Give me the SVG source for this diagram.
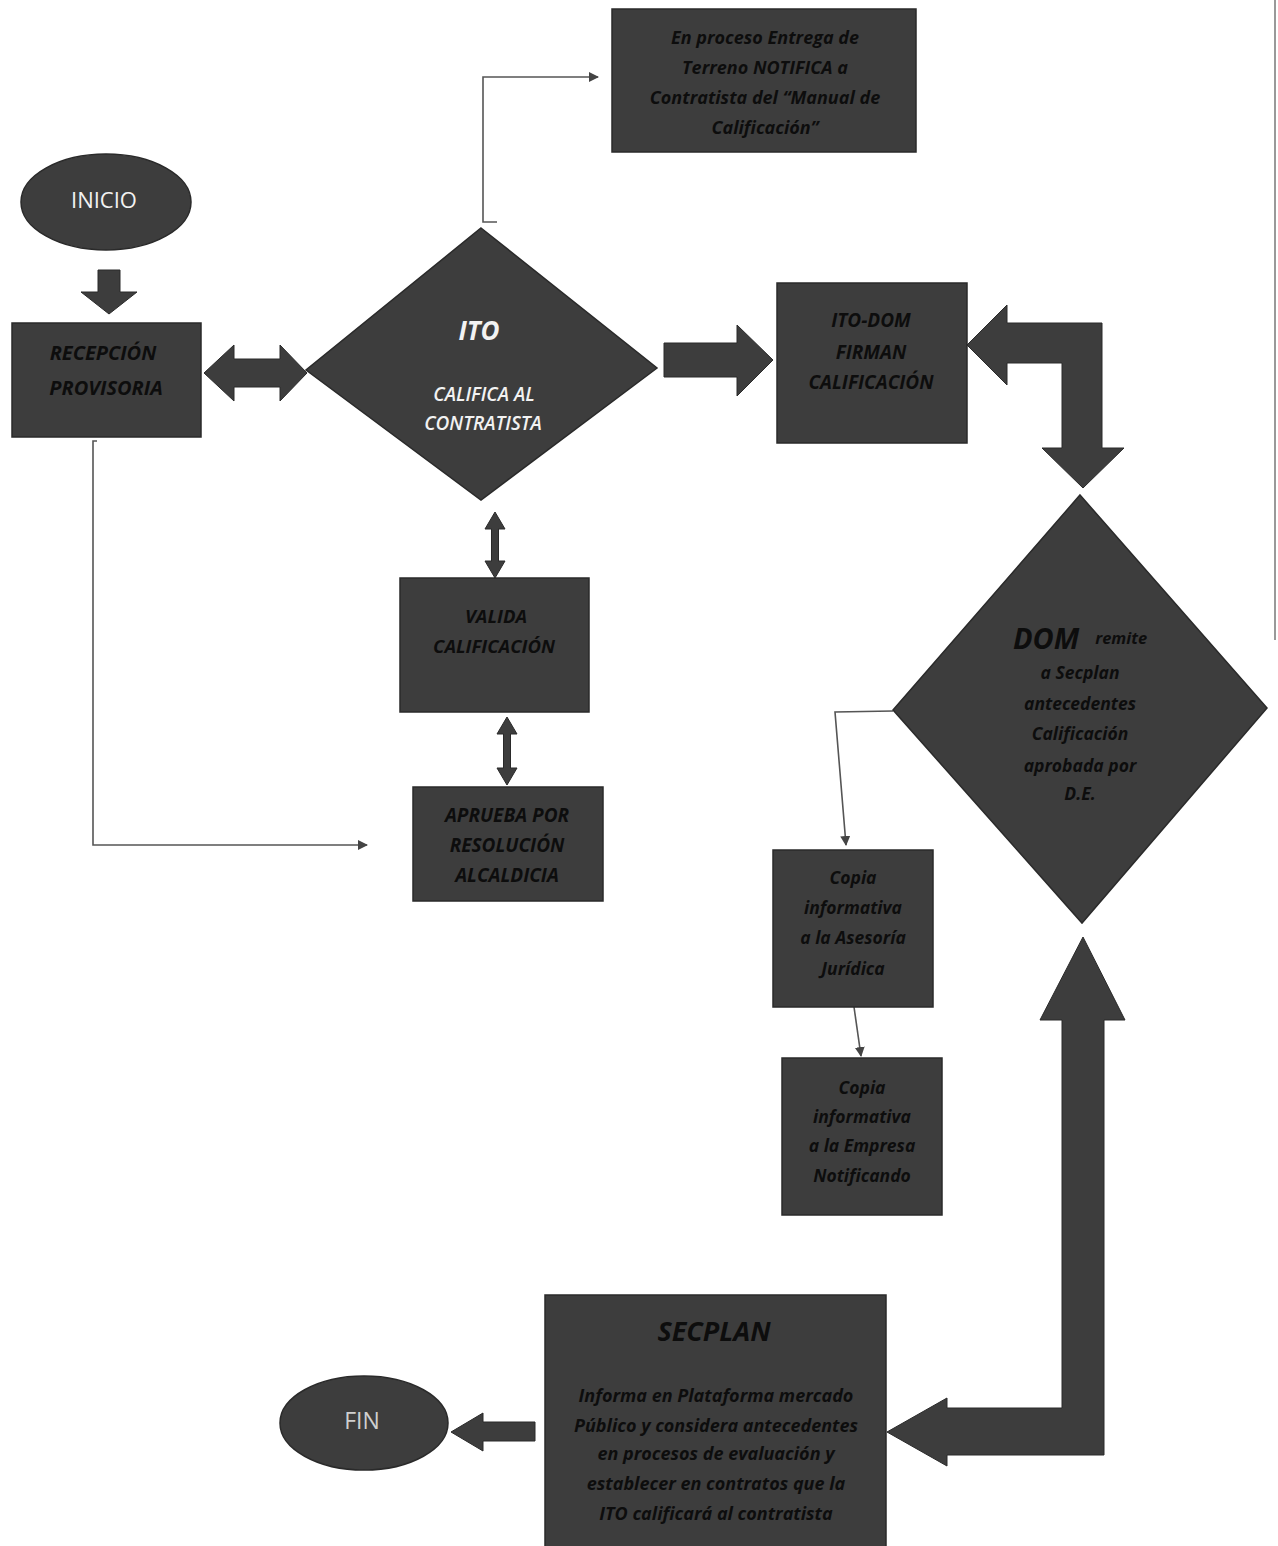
<svg xmlns="http://www.w3.org/2000/svg" width="1278" height="1546" viewBox="0 0 1278 1546">
<style>
.shape{fill:#3d3d3d;stroke:#2a2a2a;stroke-width:1.5}
.blk{fill:#3d3d3d;stroke:#2a2a2a;stroke-width:1}
.ln{fill:none;stroke:#555;stroke-width:1.6}
.t{font-family:"Open Sans","Noto Sans",sans-serif;font-weight:bold;font-style:italic;fill:#0d0d0d;text-anchor:middle;dominant-baseline:central}
.w{font-family:"Open Sans","Noto Sans",sans-serif;fill:#f2f2f2;text-anchor:middle;dominant-baseline:central}
</style>
<defs>
<marker id="ah" markerWidth="10" markerHeight="10" refX="9" refY="5" orient="auto" markerUnits="userSpaceOnUse">
<path d="M0,0 L10,5 L0,10 Z" fill="#444"/>
</marker>
</defs>
<rect width="1278" height="1546" fill="#fff"/>
<line x1="1275" y1="0" x2="1275" y2="640" stroke="#777" stroke-width="1.5"/>

<g id="connectors">
<polyline class="ln" points="497,222 483,222 483,77 598,77" marker-end="url(#ah)"/>
<polyline class="ln" points="97,441 93,441 93,845 367,845" marker-end="url(#ah)"/>
<polyline class="ln" points="893,711 835,712 846,845" marker-end="url(#ah)"/>
<line class="ln" x1="854" y1="1007" x2="861" y2="1056" marker-end="url(#ah)"/>
<polygon class="blk" points="98,270 120,270 120,292 137,292 109,314 81,292 98,292"/>
<polygon class="blk" points="204,373 234,345 234,359 280,359 280,345 307,373 280,401 280,387 234,387 234,401"/>
<polygon class="blk" points="664,343 737,343 737,325 773,360 737,396 737,377 664,377"/>
<polygon class="blk" points="967,345 1007,305 1007,323 1102,323 1102,448 1124,448 1083,488 1042,448 1062,448 1062,363 1007,363 1007,385"/>
<polygon class="blk" points="495,512 505,529 498.5,529 498.5,561 505,561 495,578 485,561 491.5,561 491.5,529 485,529"/>
<polygon class="blk" points="507,717 517,734 510.5,734 510.5,768 517,768 507,785 497,768 503.5,768 503.5,734 497,734"/>
<polygon class="blk" points="1083,937 1125,1020 1104,1020 1104,1455 947,1455 947,1466 887,1432 947,1398 947,1408 1062,1408 1062,1020 1040,1020"/>
<polygon class="blk" points="535,1422 483,1422 483,1413 451,1432 483,1451 483,1441 535,1441"/>
</g>

<g id="notifica">
<rect class="shape" x="612" y="9" width="304" height="143"/>
<text class="t" font-size="18" x="765" y="37">En proceso Entrega de</text>
<text class="t" font-size="18" x="765" y="67">Terreno NOTIFICA a</text>
<text class="t" font-size="18" x="765" y="97">Contratista del “Manual de</text>
<text class="t" font-size="18" x="765" y="127">Calificación”</text>
</g>

<g id="inicio">
<ellipse class="shape" cx="106" cy="202" rx="85" ry="48"/>
<text class="w" font-size="22" x="104" y="199">INICIO</text>
</g>

<g id="recepcion">
<rect class="shape" x="12" y="323" width="189" height="114"/>
<text class="t" font-size="20" x="103" y="352">RECEPCIÓN</text>
<text class="t" font-size="20" x="106" y="387">PROVISORIA</text>
</g>

<g id="ito">
<polygon class="shape" points="481,228 657,368 481,500 306,370"/>
<text class="w" font-size="26" font-weight="bold" font-style="italic" x="479" y="330">ITO</text>
<text class="w" font-size="19" font-style="italic" font-weight="600" x="484" y="394">CALIFICA AL</text>
<text class="w" font-size="19" font-style="italic" font-weight="600" x="483" y="423">CONTRATISTA</text>
</g>

<g id="itodom">
<rect class="shape" x="777" y="283" width="190" height="160"/>
<text class="t" font-size="19" x="871" y="320">ITO-DOM</text>
<text class="t" font-size="19" x="871" y="352">FIRMAN</text>
<text class="t" font-size="19" x="871" y="382">CALIFICACIÓN</text>
</g>

<g id="valida">
<rect class="shape" x="400" y="578" width="189" height="134"/>
<text class="t" font-size="18.5" x="496" y="615">VALIDA</text>
<text class="t" font-size="18.5" x="494" y="645">CALIFICACIÓN</text>
</g>

<g id="aprueba">
<rect class="shape" x="413" y="787" width="190" height="114"/>
<text class="t" font-size="19" x="507" y="815">APRUEBA POR</text>
<text class="t" font-size="19" x="507" y="845">RESOLUCIÓN</text>
<text class="t" font-size="19" x="507" y="875">ALCALDICIA</text>
</g>

<g id="dom">
<polygon class="shape" points="1080,495 1267,708 1082,923 893,710"/>
<text class="t" x="1080" y="637"><tspan font-size="29">DOM</tspan><tspan font-size="16.5" dx="16">remite</tspan></text>
<text class="t" font-size="17.5" x="1080" y="672">a Secplan</text>
<text class="t" font-size="17.5" x="1080" y="703">antecedentes</text>
<text class="t" font-size="17.5" x="1080" y="733">Calificación</text>
<text class="t" font-size="17.5" x="1080" y="765">aprobada por</text>
<text class="t" font-size="17.5" x="1080" y="793">D.E.</text>
</g>

<g id="copia-asesoria">
<rect class="shape" x="773" y="850" width="160" height="157"/>
<text class="t" font-size="17.5" x="853" y="877">Copia</text>
<text class="t" font-size="17.5" x="853" y="907">informativa</text>
<text class="t" font-size="17.5" x="853" y="937">a la Asesoría</text>
<text class="t" font-size="17.5" x="853" y="968">Jurídica</text>
</g>

<g id="copia-empresa">
<rect class="shape" x="782" y="1058" width="160" height="157"/>
<text class="t" font-size="17.5" x="862" y="1087">Copia</text>
<text class="t" font-size="17.5" x="862" y="1116">informativa</text>
<text class="t" font-size="17.5" x="862" y="1145">a la Empresa</text>
<text class="t" font-size="17.5" x="862" y="1175">Notificando</text>
</g>

<g id="secplan">
<rect class="shape" x="545" y="1295" width="341" height="255"/>
<text class="t" font-size="27" x="714" y="1330">SECPLAN</text>
<text class="t" font-size="18" x="716" y="1395">Informa en Plataforma mercado</text>
<text class="t" font-size="18" x="716" y="1425">Público y considera antecedentes</text>
<text class="t" font-size="18" x="716" y="1453">en procesos de evaluación y</text>
<text class="t" font-size="18" x="716" y="1483">establecer en contratos que la</text>
<text class="t" font-size="18" x="716" y="1513">ITO calificará al contratista</text>
</g>

<g id="fin">
<ellipse class="shape" cx="364" cy="1423" rx="84" ry="47"/>
<text class="w" font-size="23" style="fill:#cfcfcf" x="362" y="1420">FIN</text>
</g>
</svg>
